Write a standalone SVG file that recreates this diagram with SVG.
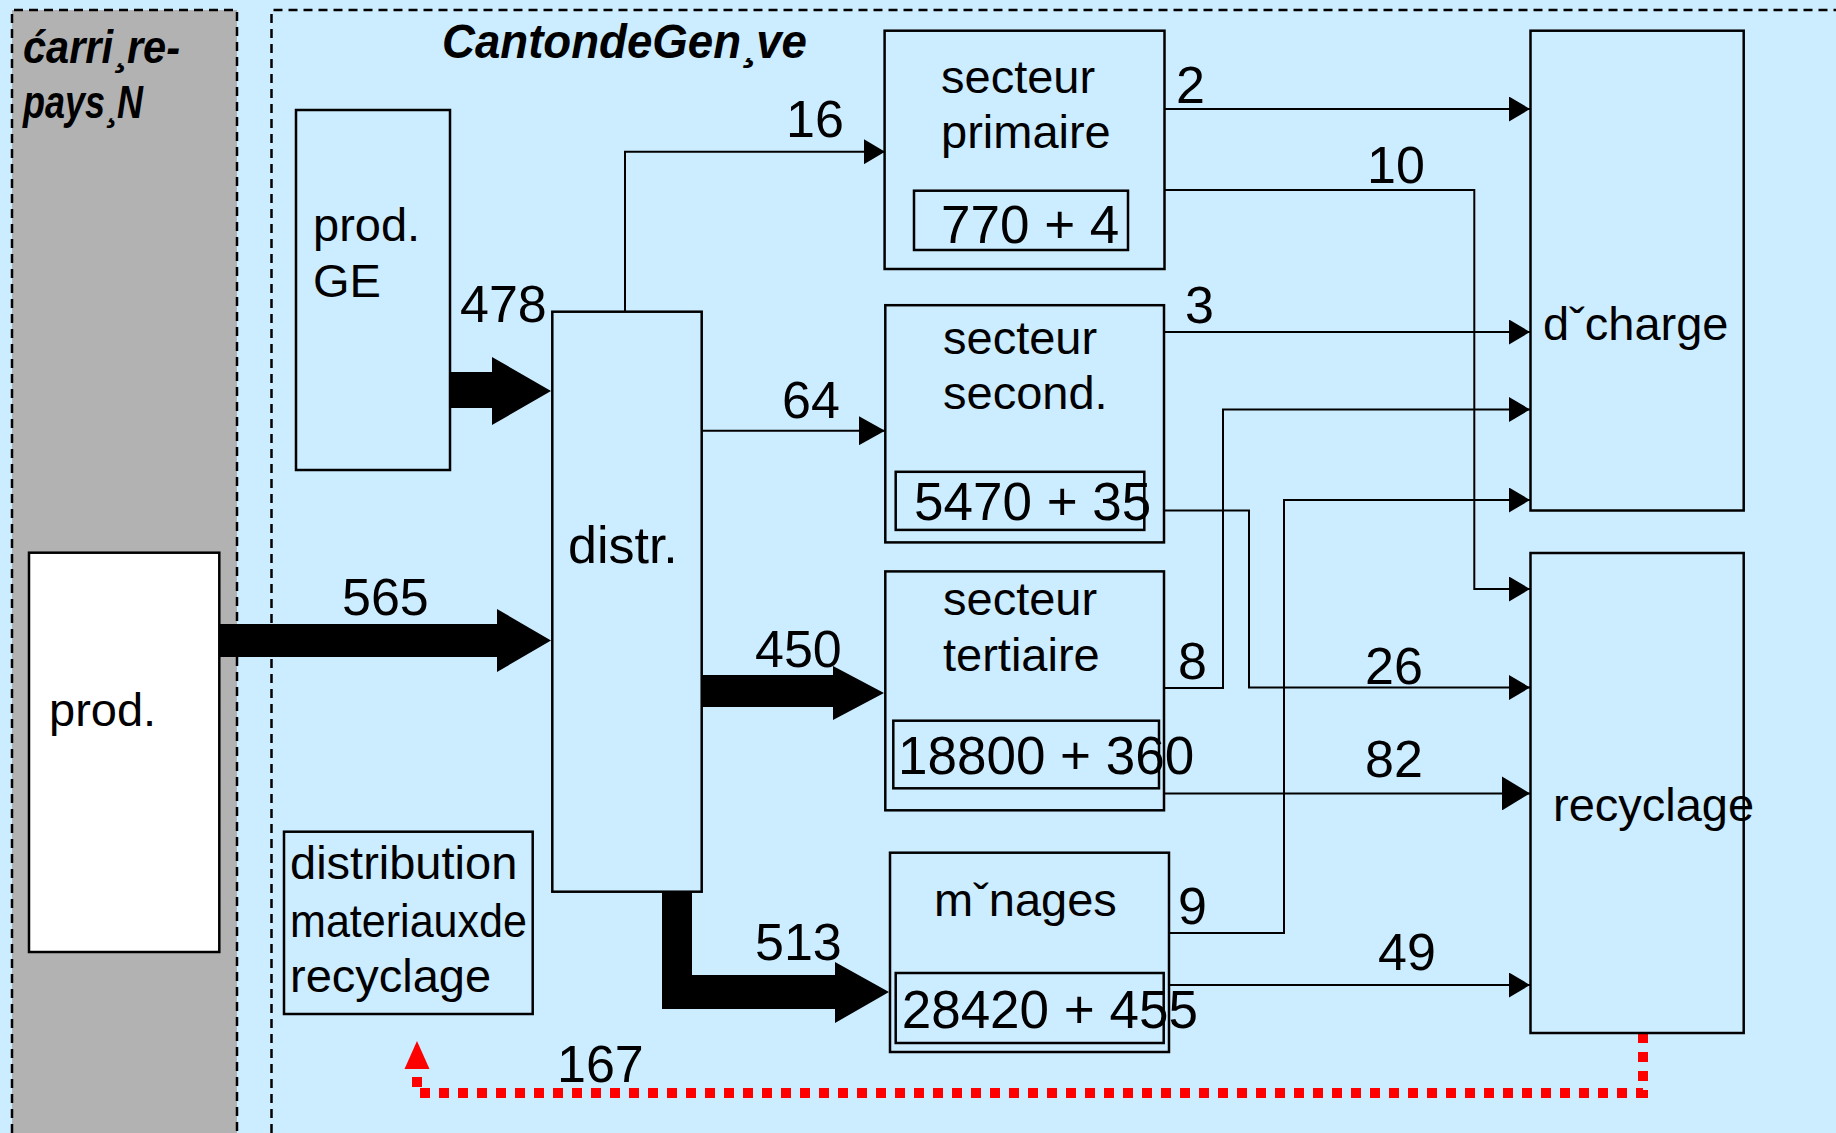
<svg xmlns="http://www.w3.org/2000/svg" width="1836" height="1133" viewBox="0 0 1836 1133">
<style>
.t{font-family:"Liberation Sans",Arial,sans-serif;fill:#000}
.w{font-size:47px}
.n{font-size:52px}
.m{font-size:53px}
.bi{font-weight:bold;font-style:italic}
.box{fill:#CCECFF;stroke:#000;stroke-width:2.5}
.inner{fill:none;stroke:#000;stroke-width:2.5}
.dash{fill:none;stroke:#000;stroke-width:2.5;stroke-dasharray:9 6}
.c{fill:none;stroke:#000;stroke-width:2}
.blk{fill:#000;stroke:none}
</style>
<defs>
<marker id="ah" viewBox="0 0 21 25" refX="21" refY="12.5" markerWidth="21" markerHeight="25" markerUnits="userSpaceOnUse" orient="auto"><path d="M0,0 L21,12.5 L0,25 z" fill="#000"/></marker>
<marker id="ah3" viewBox="0 0 26 29" refX="26" refY="14.5" markerWidth="26" markerHeight="29" markerUnits="userSpaceOnUse" orient="auto"><path d="M0,0 L26,14.5 L0,29 z" fill="#000"/></marker>
<marker id="ah4" viewBox="0 0 28 34" refX="28" refY="17" markerWidth="28" markerHeight="34" markerUnits="userSpaceOnUse" orient="auto"><path d="M0,0 L28,17 L0,34 z" fill="#000"/></marker>
</defs>
<rect x="0" y="0" width="1836" height="1133" fill="#CCECFF"/>
<g id="region-outside">
<rect x="12" y="10" width="225" height="1140" fill="#B2B2B2"/>
<path class="dash" d="M12,1133 V10 H237 V1133"/>
<text class="t bi" x="23" y="63" font-size="46" textLength="157" lengthAdjust="spacingAndGlyphs">ćarri¸re-</text>
<text class="t bi" x="23" y="118" font-size="46" textLength="120" lengthAdjust="spacingAndGlyphs">pays¸N</text>
</g>
<g id="region-canton">
<path class="dash" d="M271.5,1133 V10 H1836"/>
<text class="t bi" x="442" y="58" font-size="49" textLength="365" lengthAdjust="spacingAndGlyphs">CantondeGen¸ve</text>
</g>
<g id="connectors">
<polygon class="blk" points="450,372 492,372 492,357 551,391 492,425 492,408 450,408"/>
<polygon class="blk" points="219,624 497,624 497,609 551,640.5 497,672 497,657 219,657"/>
<polygon class="blk" points="701,675 833,675 833,666 884,693 833,720 833,707 701,707"/>
<polygon class="blk" points="662,892 692,892 692,975 835,975 835,962 889,992 835,1023 835,1009 662,1009"/>
<path class="c" d="M625,311.7 V151.7 H885" marker-end="url(#ah)"/>
<path class="c" d="M701.7,430.7 H885" stroke-width="3" marker-end="url(#ah3)"/>
<path class="c" d="M1164,109 H1530" marker-end="url(#ah)"/>
<path class="c" d="M1164,190 H1474.3 V589 H1530" marker-end="url(#ah)"/>
<path class="c" d="M1164,332 H1530" marker-end="url(#ah)"/>
<path class="c" d="M1164,510.6 H1249 V687.5 H1530" marker-end="url(#ah)"/>
<path class="c" d="M1164,688 H1223 V409.5 H1530" marker-end="url(#ah)"/>
<path class="c" d="M1164,793.4 H1530" stroke-width="4" marker-end="url(#ah4)"/>
<path class="c" d="M1169,933 H1284 V500 H1530" marker-end="url(#ah)"/>
<path class="c" d="M1169,985 H1530" marker-end="url(#ah)"/>
<path d="M1643,1033 V1093 H417 V1071" fill="none" stroke="#FF0000" stroke-width="10" stroke-dasharray="10 9"/>
<polygon points="417,1041 404.5,1069 429.5,1069" fill="#FF0000"/>
<g class="t n">
<text x="786" y="137">16</text>
<text x="460" y="322">478</text>
<text x="342" y="615">565</text>
<text x="782" y="418">64</text>
<text x="755" y="667">450</text>
<text x="755" y="960">513</text>
<text x="1176" y="103">2</text>
<text x="1367" y="183">10</text>
<text x="1185" y="323">3</text>
<text x="1178" y="679">8</text>
<text x="1365" y="684">26</text>
<text x="1365" y="777">82</text>
<text x="1178" y="924">9</text>
<text x="1378" y="970">49</text>
<text x="557" y="1082">167</text>
</g>
</g>
<g id="node-prod-ge">
<rect class="box" x="296" y="110" width="154" height="360"/>
<text class="t w" x="313" y="241">prod.</text>
<text class="t w" x="313" y="297">GE</text>
</g>
<g id="node-prod">
<rect x="29" y="552.7" width="190.3" height="399.3" fill="#FFFFFF" stroke="#000" stroke-width="2.5"/>
<text class="t w" x="49" y="726">prod.</text>
</g>
<g id="node-distr">
<rect class="box" x="552.3" y="311.7" width="149.4" height="580"/>
<text class="t" x="568" y="563" font-size="52">distr.</text>
</g>
<g id="node-distribution-recyclage">
<rect class="box" x="284" y="831.7" width="248.7" height="182.3" stroke-width="3.5"/>
<text class="t w" x="290" y="879">distribution</text>
<text class="t w" x="290" y="937" textLength="237" lengthAdjust="spacingAndGlyphs">materiauxde</text>
<text class="t w" x="290" y="992">recyclage</text>
</g>
<g id="node-primaire">
<rect class="box" x="884.6" y="30.7" width="279.9" height="238.3"/>
<rect class="inner" x="914" y="190.7" width="214" height="59.3"/>
<text class="t w" x="941" y="93">secteur</text>
<text class="t w" x="941" y="148">primaire</text>
<text class="t m" x="941" y="243">770 + 4</text>
</g>
<g id="node-second">
<rect class="box" x="885.3" y="305.2" width="278.7" height="237.2"/>
<rect class="inner" x="895.7" y="471.8" width="248.6" height="58.1"/>
<text class="t w" x="943" y="354">secteur</text>
<text class="t w" x="943" y="409">second.</text>
<text class="t m" x="914" y="520">5470 + 35</text>
</g>
<g id="node-tertiaire">
<rect class="box" x="885.3" y="571.4" width="278.7" height="238.9"/>
<rect class="inner" x="893.3" y="720.7" width="265.7" height="67.6"/>
<text class="t w" x="943" y="615">secteur</text>
<text class="t w" x="943" y="671">tertiaire</text>
<text class="t m" x="898" y="774">18800 + 360</text>
</g>
<g id="node-menages">
<rect class="box" x="890" y="852.7" width="279" height="199.3"/>
<rect class="inner" x="895.7" y="973" width="268" height="70"/>
<text class="t w" x="934" y="916">mˇnages</text>
<text class="t m" x="901.7" y="1028">28420 + 455</text>
</g>
<g id="node-decharge">
<rect class="box" x="1530.5" y="30.7" width="213.2" height="479.8"/>
<text class="t w" x="1543" y="340">dˇcharge</text>
</g>
<g id="node-recyclage">
<rect class="box" x="1530.5" y="553" width="213.2" height="480"/>
<text class="t w" x="1553" y="821">recyclage</text>
</g>
</svg>
